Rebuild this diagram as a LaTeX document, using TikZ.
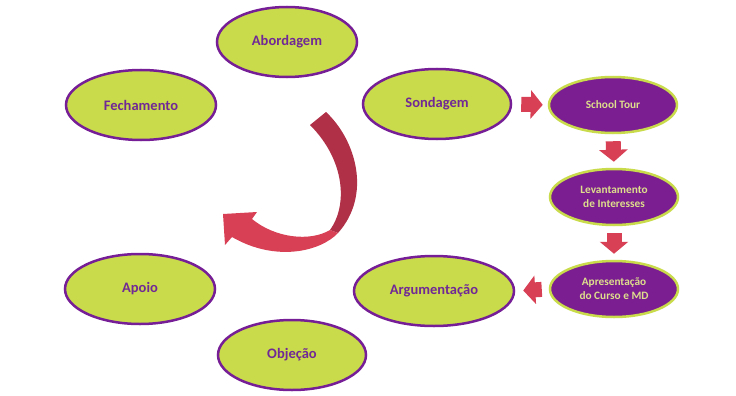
\documentclass[tikz,border=0pt]{standalone}
\usepackage{fontspec}
\setmainfont{Carlito}
\usepackage{tikz}
\usetikzlibrary{positioning, shapes.geometric, arrows.meta}

\definecolor{limefill}{RGB}{201,219,74}
\definecolor{purpline}{RGB}{118,30,150}
\definecolor{purptext}{RGB}{112,40,150}
\definecolor{purpfill}{RGB}{122,30,145}
\definecolor{paletext}{RGB}{222,222,140}
\definecolor{arrowred}{RGB}{216,64,86}
\definecolor{arcdark}{RGB}{176,48,72}

\begin{document}
\begin{tikzpicture}[x=1pt, y=-1pt,
    greenstage/.style={ellipse, draw=purpline, line width=2.5pt, fill=limefill, text=purptext,
      font=\bfseries\fontsize{14.5}{16}\selectfont, minimum width=#1, minimum height=70pt},
    greenstage/.default=148pt,
    purpstage/.style={ellipse, draw=limefill, line width=2.5pt, fill=purpfill, text=paletext, align=center,
      font=\bfseries\fontsize{11.3}{14}\selectfont, minimum width=128pt, minimum height=56pt},
    blockarrow/.style={draw=arrowred, line width=15pt, -{Triangle[length=12pt, width=28pt]}}]
    \useasboundingbox (0,0) rectangle (736,396);

    % Cycle stages
    \node[greenstage=140pt] (abord) at (287,42) {Abordagem};
    \node[greenstage=150pt] (fech) at (141,105) {Fechamento};
    \node[greenstage] (sond) at (437,104) {Sondagem};
    \node[greenstage=150pt] (apoio) at (140,289) {Apoio};
    \node[greenstage] (objec) at (292,355) {Objeção};
    \node[greenstage=160pt] (argum) at (434,291) {Argumentação};

    % Detail of the sondagem
    \node[purpstage] (tour) at (613,105) {School Tour};
    \node[purpstage] (levant) at (614,197) {Levantamento\\de Interesses};
    \node[purpstage] (apres) at (614,289) {Apresentação\\do Curso e MD};

    % Block arrows between stages
    \draw[blockarrow, shorten <=9pt, shorten >=5pt] (sond.east) -- (tour.west);
    \draw[blockarrow, shorten <=7pt, shorten >=6pt] (tour.south) -- (levant.north);
    \draw[blockarrow, shorten <=7pt, shorten >=6pt] (levant.south) -- (apres.north);
    \draw[blockarrow, shorten <=7pt, shorten >=8pt] (apres.west) -- (argum.east);

    % Curved arrow in the middle
    \fill[arcdark] (310,125) -- (326,112) .. controls (356,140) and (372,195) .. (338,233)
      -- (330,230) .. controls (348,205) and (345,160) .. (310,125) -- cycle;
    \fill[arrowred] (338,233) .. controls (320,252) and (275,262) .. (232,237)
      -- (225,245) -- (223,214) -- (257,212) -- (252,219)
      .. controls (275,238) and (310,242) .. (330,230) -- cycle;
\end{tikzpicture}
\end{document}
